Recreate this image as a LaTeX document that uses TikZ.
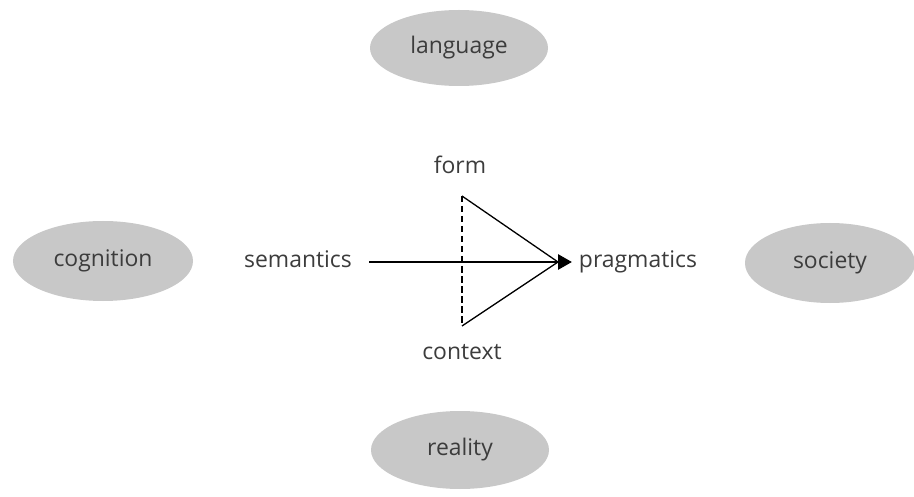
\documentclass[tikz,border=0pt]{standalone}
\usepackage{fontspec}
\setmainfont{Open Sans}
\usetikzlibrary{shapes.geometric,arrows.meta}
\definecolor{blobgray}{RGB}{200,200,200}
\definecolor{inkgray}{RGB}{60,60,60}
\begin{document}
\begin{tikzpicture}[x=1bp,y=-1bp,
  blob/.style={ellipse,fill=blobgray,draw=none,minimum width=178bp,minimum height=76bp,inner sep=0pt,text=inkgray,font=\fontsize{23}{26}\selectfont},
  word/.style={text=inkgray,font=\fontsize{23}{26}\selectfont,inner sep=0pt,anchor=base},
  edge/.style={line width=1.3bp,black}]
\useasboundingbox (0,0) rectangle (914,497);
\fill[white] (0,0) rectangle (914,497);
% outer concepts
\node[blob] (language) at (459,48) {language};
\node[blob,minimum width=180bp,minimum height=80bp] (cognition) at (103,261) {cognition};
\node[blob,minimum width=170bp,minimum height=80bp] (society) at (830,263) {society};
\node[blob,minimum height=78bp] (reality) at (460,450) {reality};
% central triangle
\coordinate (top) at (462,196);
\coordinate (bot) at (462,326);
\coordinate (apex) at (558,262);
\draw[edge,dash pattern=on 6.5bp off 3.5bp] (top) -- (bot);
\draw[edge] (top) -- (apex) -- (bot);
% labels
\node[word] (form) at (460,174) {form};
\node[word] (context) at (462,360) {context};
\node[word] (semantics) at (298,268) {semantics};
\node[word] (pragmatics) at (638,268) {pragmatics};
\coordinate (start) at (369,262);
\coordinate (tip) at (572,262);
\draw[line width=2.8bp,-{Triangle[length=14bp,width=15bp]}] (start) -- (tip);
\end{tikzpicture}
\end{document}
